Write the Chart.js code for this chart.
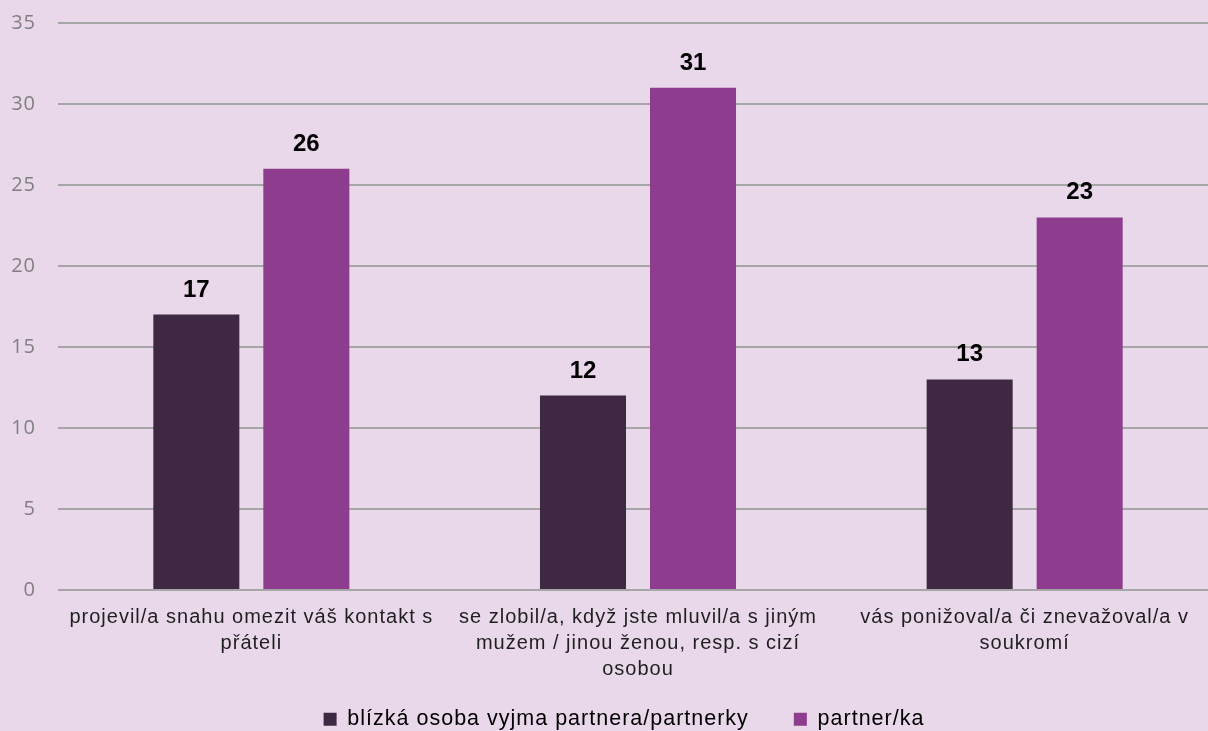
<!DOCTYPE html>
<html>
<head>
<meta charset="utf-8">
<script src="https://cdn.jsdelivr.net/npm/chart.js@4/dist/chart.umd.min.js"></script>
<style>
html,body{margin:0;padding:0;background:#E8D8EA;}
#wrap{width:1208px;height:731px;position:relative;}
</style>
</head>
<body>
<div id="wrap"><canvas id="c" width="1208" height="731"></canvas></div>
<script>
const categories = [
  ["projevil/a snahu omezit váš kontakt s", "přáteli"],
  ["se zlobil/a, když jste mluvil/a s jiným", "mužem / jinou ženou, resp. s cizí", "osobou"],
  ["vás ponižoval/a či znevažoval/a v", "soukromí"]
];
const seriesNames = ["blízká osoba vyjma partnera/partnerky", "partner/ka"];
const closePerson = [17, 12, 13];
const partner = [26, 31, 23];
const yTicks = [0, 5, 10, 15, 20, 25, 30, 35];

const spacing = {
  id: 'spacing',
  beforeLayout(chart) { chart.ctx.letterSpacing = '1px'; },
  afterLayout(chart) {
    const lg = chart.legend;
    if (lg) { lg.top += 9; lg.bottom += 9; lg.left -= 9; lg.right -= 9; }
    // plot area runs slightly past the right edge, as in the original
    const extra = 10;
    const x = chart.scales.x;
    x.right += extra; x.width += extra; x.configure();
    chart.chartArea.right += extra; chart.chartArea.width += extra;
    x.bottom = chart.height;
    chart.scales.y.left = 0;
  },
  beforeDraw(chart) { chart.ctx.letterSpacing = '1px'; }
};

const valueLabels = {
  id: 'valueLabels',
  afterDatasetsDraw(chart) {
    const ctx = chart.ctx;
    ctx.save();
    ctx.letterSpacing = '0px';
    ctx.font = 'bold 24px "Liberation Sans", Arial, sans-serif';
    ctx.fillStyle = '#000';
    ctx.textAlign = 'center';
    ctx.textBaseline = 'alphabetic';
    chart.data.datasets.forEach((ds, i) => {
      chart.getDatasetMeta(i).data.forEach((bar, j) => {
        ctx.fillText(String(ds.data[j]), bar.x, bar.y - 18);
      });
    });
    ctx.restore();
  }
};

new Chart(document.getElementById('c'), {
  type: 'bar',
  data: {
    labels: categories,
    datasets: [
      { label: seriesNames[0], data: closePerson, backgroundColor: '#3F2842', borderWidth: 0 },
      { label: seriesNames[1], data: partner, backgroundColor: '#8E3C8D', borderWidth: 0 }
    ]
  },
  options: {
    responsive: false,
    animation: false,
    layout: { padding: { left: 12, right: 0, top: 23, bottom: 0 } },
    datasets: { bar: { categoryPercentage: 0.569, barPercentage: 0.782 } },
    plugins: {
      legend: {
        position: 'bottom',
        fullSize: false,
        labels: {
          font: { family: '"Liberation Sans", Arial, sans-serif', size: 21.5 },
          color: '#000',
          boxWidth: 13, boxHeight: 13,
          padding: 45
        }
      },
      tooltip: { enabled: false }
    },
    scales: {
      x: {
        afterFit(axis) { axis.height = 64.5; },
        grid: { display: false, drawTicks: false },
        border: { display: false },
        ticks: {
          font: { family: '"Liberation Sans", Arial, sans-serif', size: 20, lineHeight: 1.3 },
          color: '#1F1F1F',
          padding: 14,
          maxRotation: 0
        }
      },
      y: {
        min: 0, max: 35,
        afterBuildTicks(axis) { axis.ticks = yTicks.map(v => ({ value: v })); },
        afterFit(axis) { axis.width = 46; axis.paddingTop = 12; axis.paddingBottom = 12; },
        grid: { color: '#A6A6A6', lineWidth: 2, drawTicks: false },
        border: { display: false },
        ticks: {
          font: { family: '"Open Sans", sans-serif', size: 20 },
          color: '#808080',
          padding: 22
        }
      }
    }
  },
  plugins: [spacing, valueLabels]
});
</script>
</body>
</html>
